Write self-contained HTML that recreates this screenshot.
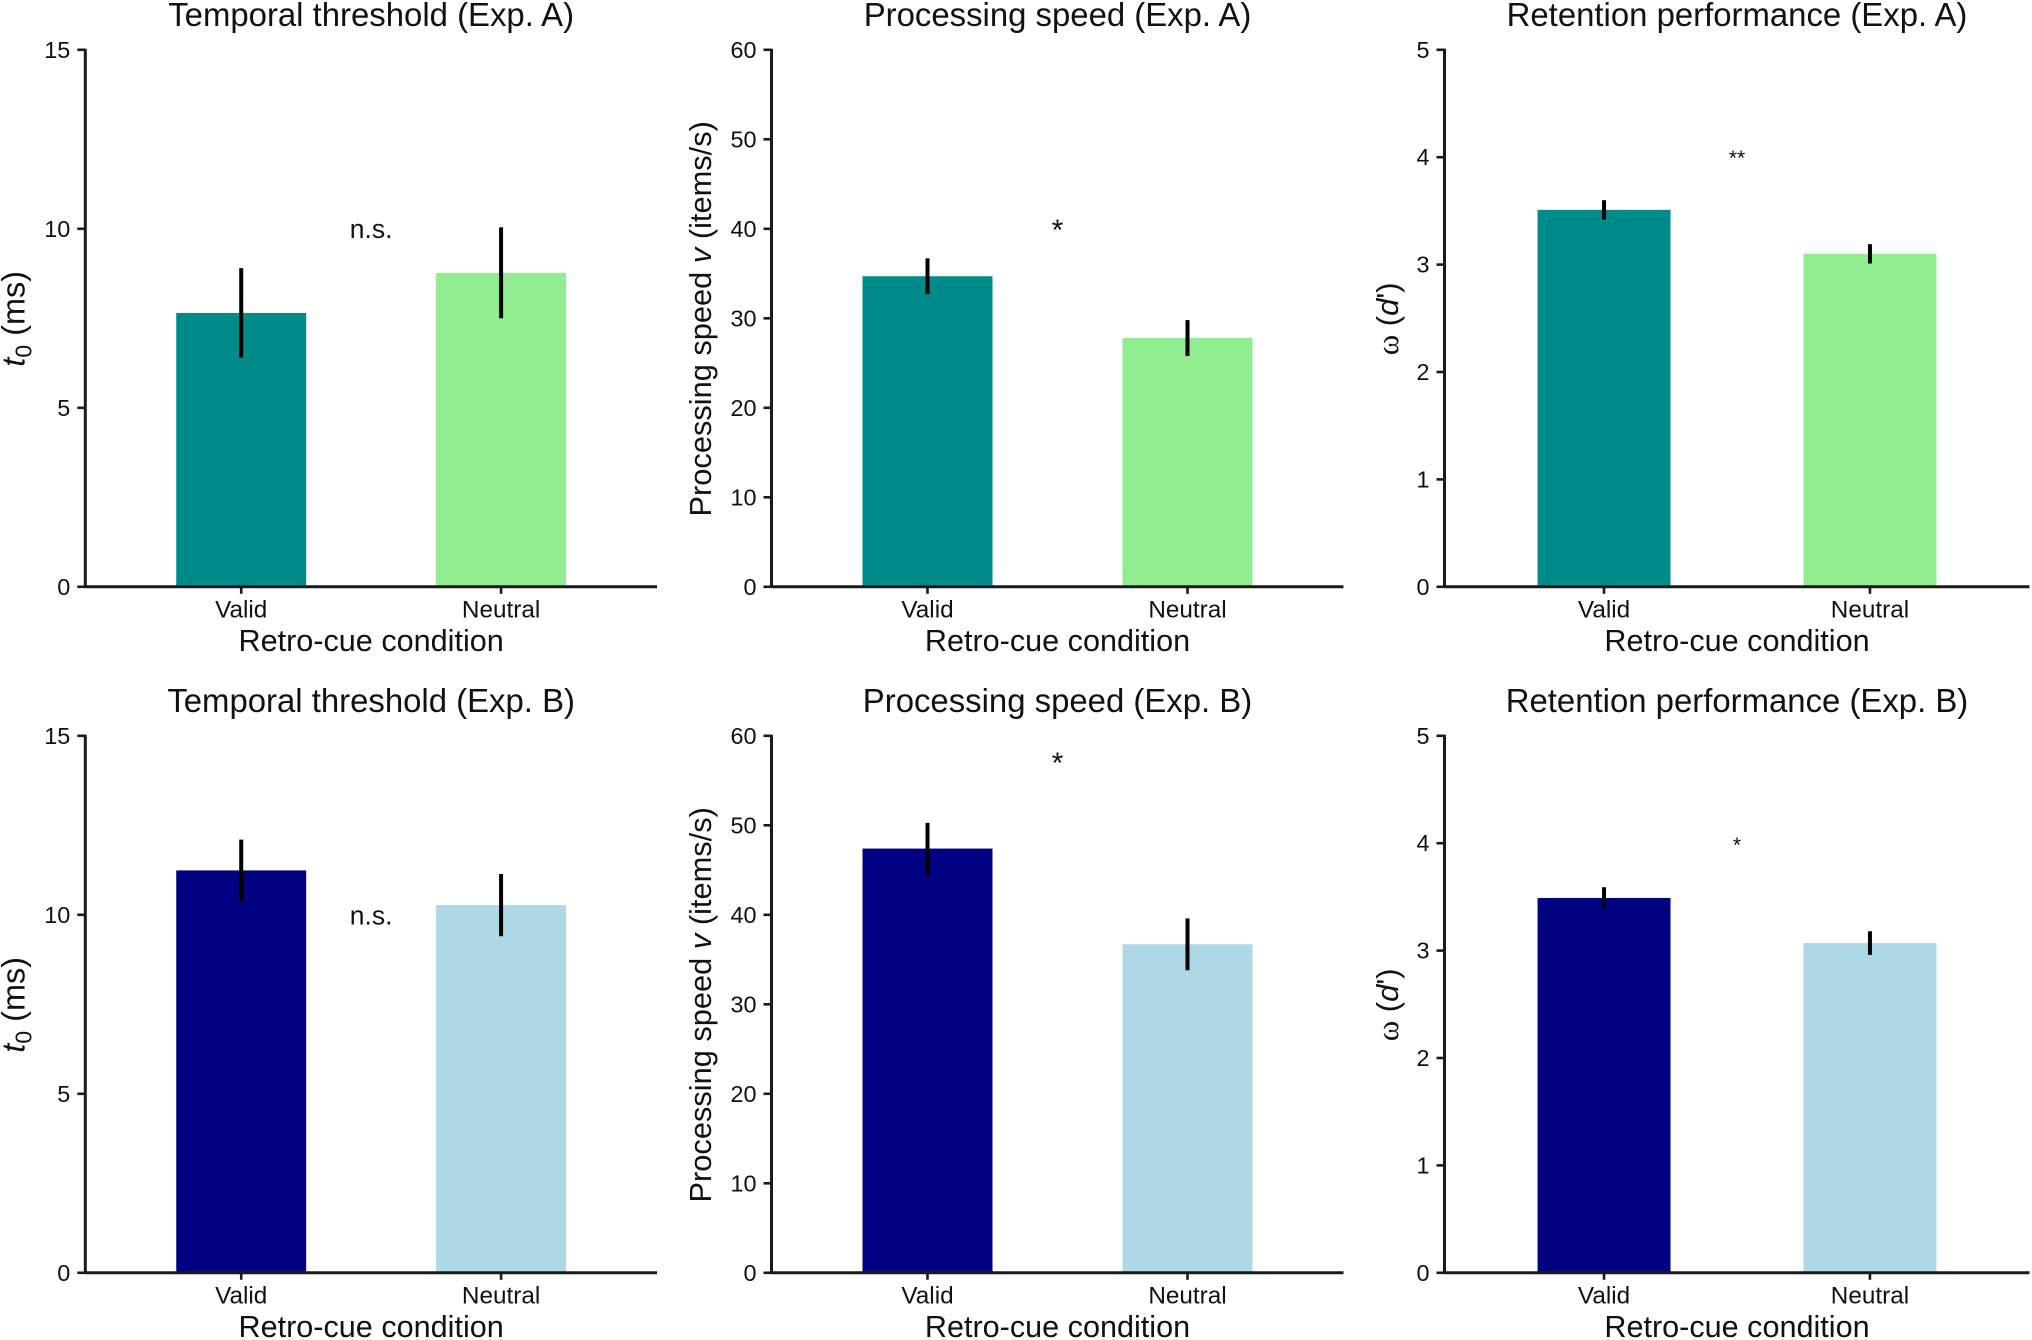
<!DOCTYPE html>
<html lang="en">
<head>
<meta charset="utf-8">
<title>Retro-cue condition bar charts</title>
<style>
html,body{margin:0;padding:0;background:#fff;}
svg{display:block;}
text{font-family:"Liberation Sans",sans-serif;fill:#111;}
</style>
</head>
<body>
<svg id="figure" xmlns="http://www.w3.org/2000/svg" width="2032" height="1340" viewBox="0 0 2032 1340"></svg>
<script>
const conditions = ['Valid', 'Neutral'];
const panelTitles = [
  'Temporal threshold (Exp. A)', 'Processing speed (Exp. A)', 'Retention performance (Exp. A)',
  'Temporal threshold (Exp. B)', 'Processing speed (Exp. B)', 'Retention performance (Exp. B)'
];
const xAxisTitle = 'Retro-cue condition';
const t0Ticks = [0, 5, 10, 15];
const speedTicks = [0, 10, 20, 30, 40, 50, 60];
const omegaTicks = [0, 1, 2, 3, 4, 5];
const validMeans = [7.65, 34.7, 3.51, 11.24, 47.4, 3.49];
const neutralMeans = [8.77, 27.8, 3.10, 10.27, 36.7, 3.07];
const validLow = [6.4, 32.7, 3.42, 10.37, 44.45, 3.39];
const validHigh = [8.9, 36.7, 3.60, 12.10, 50.27, 3.59];
const neutralLow = [7.5, 25.8, 3.01, 9.40, 33.8, 2.96];
const neutralHigh = [10.04, 29.8, 3.19, 11.14, 39.6, 3.18];
const sigLabels = ['n.s.', '*', '**', 'n.s.', '*', '*'];
const sigValues = [9.93, 40.7, 4.04, 9.92, 57.8, 4.03];

const tickSets = [t0Ticks, speedTicks, omegaTicks, t0Ticks, speedTicks, omegaTicks];
const columnLeft = [85.3, 771.5, 1444.5];
const columnRight = [657, 1343.5, 2029.5];
const rowBase = [586.8, 1272.8];
const plotHeight = 537;
const validColors = ['#008B8B', '#000080'];
const neutralColors = ['#90EE90', '#ADD8E6'];
const ns = 'http://www.w3.org/2000/svg';
const fig = document.getElementById('figure');

function make(tag, parent, attrs, content) {
  const node = document.createElementNS(ns, tag);
  for (const k in attrs) node.setAttribute(k, attrs[k]);
  if (content !== undefined) node.textContent = content;
  parent.appendChild(node);
  return node;
}

function addYTitle(parent, index, x, y) {
  const kind = index % 3;
  const size = [32.5, 30.8, 31][kind];
  const t = make('text', parent, { x: x, y: y, 'text-anchor': 'middle', 'font-size': size, transform: 'rotate(-90 ' + x + ' ' + y + ')' });
  
  
  if (kind === 0) {
    make('tspan', t, { 'font-style': 'italic' }, 't');
    make('tspan', t, { 'font-size': 23, dy: 7 }, '0');
    make('tspan', t, { dy: -7 }, ' (ms)');
  } else if (kind === 1) {
    make('tspan', t, {}, 'Processing speed ');
    make('tspan', t, { 'font-style': 'italic' }, 'v');
    make('tspan', t, {}, ' (items/s)');
  } else {
    make('tspan', t, { style: 'font-family:"Liberation Serif",serif' }, 'ω');
    make('tspan', t, {}, ' (');
    make('tspan', t, { 'font-style': 'italic' }, 'd');
    make('tspan', t, {}, "')");
  }
}

panelTitles.forEach(function (title, index) {
  const col = index % 3;
  const row = Math.floor(index / 3);
  const left = columnLeft[col];
  const right = columnRight[col];
  const base = rowBase[row];
  const top = base - plotHeight;
  const mid = (left + right) / 2;
  const span = right - left;
  const yMax = tickSets[index][tickSets[index].length - 1];
  const yScale = function (v) { return base - (v / yMax) * plotHeight; };
  const xScale = function (i) { return mid + (i - 0.5) * span / 2.2; };
  const barWidth = span / 4.4;

  const g = make('g', fig, {});
  
  

  const titleNode = make('text', g, { x: mid, y: base - plotHeight - 24, 'text-anchor': 'middle', 'font-size': 32.9 }, title);
  
  

  const means = [validMeans[index], neutralMeans[index]];
  const lows = [validLow[index], neutralLow[index]];
  const highs = [validHigh[index], neutralHigh[index]];
  const colors = [validColors[row], neutralColors[row]];

  conditions.forEach(function (name, i) {
    const bar = make('rect', g, { x: xScale(i) - barWidth / 2, y: yScale(means[i]), width: barWidth, height: base - yScale(means[i]), fill: colors[i] });
    
    
  });
  conditions.forEach(function (name, i) {
    const err = make('line', g, { x1: xScale(i), x2: xScale(i), y1: yScale(lows[i]), y2: yScale(highs[i]), stroke: '#000', 'stroke-width': 4 });
    
    
  });

  const yAxis = make('line', g, { x1: left, x2: left, y1: top - 1, y2: base + 1, stroke: '#1a1a1a', 'stroke-width': 3 });
  
  
  const xAxis = make('line', g, { x1: left, x2: right, y1: base, y2: base, stroke: '#1a1a1a', 'stroke-width': 3 });
  
  

  tickSets[index].forEach(function (value) {
    const tick = make('line', g, { x1: left - 8, x2: left, y1: yScale(value), y2: yScale(value), stroke: '#1a1a1a', 'stroke-width': 2.6 });
    
    
    const label = make('text', g, { x: left - 15, y: yScale(value) + 8, 'text-anchor': 'end', 'font-size': 23.4 }, String(value));
    
    
  });

  conditions.forEach(function (name, i) {
    const tick = make('line', g, { x1: xScale(i), x2: xScale(i), y1: base, y2: base + 7, stroke: '#1a1a1a', 'stroke-width': 2.6 });
    
    
    const label = make('text', g, { x: xScale(i), y: base + 30.5, 'text-anchor': 'middle', 'font-size': 24.3 }, name);
    
    
  });

  const xTitle = make('text', g, { x: mid, y: base + 64, 'text-anchor': 'middle', 'font-size': 30.6 }, xAxisTitle);
  
  

  const yTitleX = left - [61, 60.5, 46.5][col];
  addYTitle(g, index, yTitleX, base - 268);

  const sigText = sigLabels[index];
  const isWord = sigText === 'n.s.';
  const sigSize = isWord ? 26.5 : (col === 2 ? 21 : 30);
  const sigOffset = isWord ? 0.26 * sigSize : 0.58 * sigSize;
  const sig = make('text', g, { x: mid, y: yScale(sigValues[index]) + sigOffset, 'text-anchor': 'middle', 'font-size': sigSize }, sigText);
  
  
});
</script>
</body>
</html>
